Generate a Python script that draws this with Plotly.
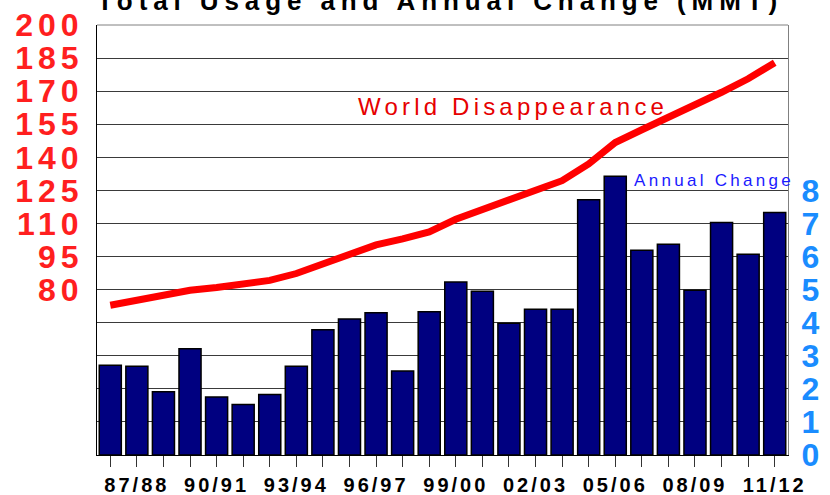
import plotly.graph_objects as go

# ---- data ----
seasons = ["86/87", "87/88", "88/89", "89/90", "90/91", "91/92", "92/93", "93/94",
           "94/95", "95/96", "96/97", "97/98", "98/99", "99/00", "00/01", "01/02",
           "02/03", "03/04", "04/05", "05/06", "06/07", "07/08", "08/09", "09/10",
           "10/11", "11/12"]
annual_change = [2.71, 2.68, 1.91, 3.21, 1.75, 1.53, 1.83, 2.68, 3.79, 4.11, 4.30, 2.54,
                 4.33, 5.23, 4.95, 3.98, 4.41, 4.41, 7.72, 8.43, 6.19, 6.37, 4.98, 7.03,
                 6.07, 7.33]
world_disappearance = [72.9, 75.1, 77.3, 79.7, 81.0, 82.5, 84.2, 87.3, 91.8, 96.4, 100.3,
                       103.0, 106.2, 111.9, 116.4, 120.6, 125.2, 129.4, 137.0, 146.7,
                       152.5, 158.1, 163.1, 169.5, 175.6, 182.9]
left_tick_values = [80, 95, 110, 125, 140, 155, 170, 185, 200]
right_tick_values = [0, 1, 2, 3, 4, 5, 6, 7, 8]
right_grid_values = [9, 10, 11, 12, 13]
x_tick_labels = ["87/88", "90/91", "93/94", "96/97", "99/00", "02/03", "05/06", "08/09", "11/12"]

FONT = "Liberation Sans, Arial, sans-serif"


def spaced(text, px):
    return f'<span style="letter-spacing:{px}px">{text}</span>'


W, H = 830, 495
L, R, T, B = 97, 42, 25, 40
PW, PH = W - L - R, H - T - B


def px_x(x):
    return (x - L) / PW


def px_y(y):
    return (H - B - y) / PH


fig = go.Figure()
fig.add_trace(go.Scatter(
    x=seasons, y=world_disappearance, mode="lines", yaxis="y",
    line=dict(color="#FF0000", width=7), showlegend=False, hoverinfo="skip"))
fig.add_trace(go.Bar(
    x=seasons, y=annual_change, yaxis="y2",
    marker=dict(color="#000080", line=dict(color="#000000", width=1.5)),
    showlegend=False))

fig.update_layout(
    width=W, height=H,
    margin=dict(l=L, r=R, t=T, b=B, pad=0, autoexpand=False),
    paper_bgcolor="white", plot_bgcolor="white",
    bargap=0.17,
    font=dict(family=FONT),
    xaxis=dict(
        type="category", range=[-0.5, len(seasons) - 0.5], automargin=False,
        tickmode="array", tickvals=seasons,
        ticktext=[spaced(s, 3) if s in x_tick_labels else "" for s in seasons],
        ticks="outside", ticklen=11, tickwidth=1, tickcolor="#333333",
        ticklabelstandoff=1,
        tickfont=dict(family=FONT, size=20, color="black", weight="bold"),
        showline=True, linecolor="black", linewidth=1,
        showgrid=False, zeroline=False),
    yaxis=dict(
        range=[5, 200], tickmode="array", tickvals=left_tick_values, automargin=False,
        ticktext=[spaced(str(v), 5) for v in left_tick_values],
        ticks="", ticklabelstandoff=6,
        tickfont=dict(family=FONT, size=32, color="#FF1F1F", weight="bold"),
        showline=True, linecolor="black", linewidth=1,
        showgrid=False, zeroline=False),
    yaxis2=dict(
        overlaying="y", side="right", range=[0, 13], automargin=False,
        tickmode="array", tickvals=right_tick_values + right_grid_values,
        ticktext=[spaced(str(v), 2) for v in right_tick_values] + ["" for _ in right_grid_values],
        ticks="", ticklabelstandoff=6,
        tickfont=dict(family=FONT, size=32, color="#1A8CFF", weight="bold"),
        showline=True, linecolor="#808080", linewidth=1,
        showgrid=True, gridcolor="#3a3a3a", gridwidth=1, zeroline=False),
    shapes=[dict(type="line", xref="paper", yref="paper", x0=0, x1=1, y0=1, y1=1,
                 line=dict(color="#808080", width=1))],
    annotations=[
        dict(text=spaced("Total Usage and Annual Change (MMT)", 5.9),
             xref="paper", yref="paper", x=px_x(440), y=px_y(1), xanchor="center",
             yanchor="middle", showarrow=False,
             font=dict(family=FONT, size=26, color="black", weight="bold")),
        dict(text=spaced("World Disappearance", 4.2),
             xref="paper", yref="paper", x=px_x(513), y=px_y(106.5), xanchor="center",
             yanchor="middle", showarrow=False,
             font=dict(family=FONT, size=24, color="#E60000")),
        dict(text=spaced("Annual Change", 3.3),
             xref="paper", yref="paper", x=px_x(714), y=px_y(180), xanchor="center",
             yanchor="middle", showarrow=False,
             font=dict(family=FONT, size=17, color="#1A1AFF")),
    ],
)

fig.write_html("out.html", config={"displayModeBar": False},
               post_script="document.body.style.margin='0';")
